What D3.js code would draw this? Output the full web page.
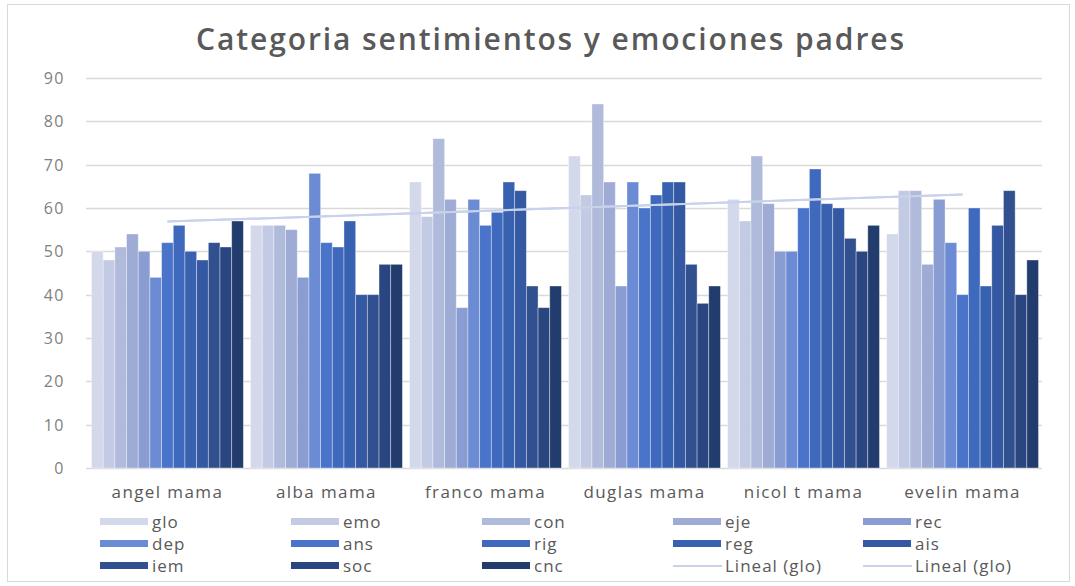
<!DOCTYPE html>
<html>
<head>
<meta charset="utf-8">
<script src="https://cdn.jsdelivr.net/npm/d3@7"></script>
<style>
  body { margin: 0; background: #fff; }
  svg { display: block; font-family: "Open Sans", "Noto Sans", sans-serif; }
</style>
</head>
<body>
<div id="chart"></div>
<script>
// categories and series (one array per series)
const categories = ["angel mama", "alba mama", "franco mama", "duglas mama", "nicol t mama", "evelin mama"];
const seriesNames = ["glo", "emo", "con", "eje", "rec", "dep", "ans", "rig", "reg", "ais", "iem", "soc", "cnc"];

const glo = [50, 56, 66, 72, 62, 54];
const emo = [48, 56, 58, 63, 57, 64];
const con = [51, 56, 76, 84, 72, 64];
const eje = [54, 55, 62, 66, 61, 47];
const rec = [50, 44, 37, 42, 50, 62];
const dep = [44, 68, 62, 66, 50, 52];
const ans = [52, 52, 56, 60, 60, 40];
const rig = [56, 51, 59, 63, 69, 60];
const reg = [50, 57, 66, 66, 61, 42];
const ais = [48, 40, 64, 66, 60, 56];
const iem = [52, 40, 42, 47, 53, 64];
const soc = [51, 47, 37, 38, 50, 40];
const cnc = [57, 47, 42, 42, 56, 48];

const yTicks = [0, 10, 20, 30, 40, 50, 60, 70, 80, 90];
const trendLabels = ["Lineal (glo)", "Lineal (glo)"];

const seriesColors = ["#d3d8ea", "#c3cae3", "#b0badb", "#9eabd5", "#8a9dd3", "#6c8bd5",
                      "#4a74c9", "#3f69bd", "#3861b0", "#3458a1", "#30508f", "#2a4680", "#223c6d"];

const values = [glo, emo, con, eje, rec, dep, ans, rig, reg, ais, iem, soc, cnc];

const width = 1075, height = 586;
const margin = { left: 88, right: 33, top: 78, bottom: 118 };

const svg = d3.select("#chart").append("svg")
    .attr("width", width)
    .attr("height", height);

// chart frame
svg.append("rect")
    .attr("x", 7.5).attr("y", 4.5)
    .attr("width", 1062).attr("height", 577)
    .attr("fill", "#fff")
    .attr("stroke", "#d9d9d9");

const x0 = d3.scaleBand()
    .domain(categories)
    .range([margin.left, width - margin.right])
    .paddingInner(0.045)
    .paddingOuter(0.022);

const x1 = d3.scaleBand()
    .domain(seriesNames)
    .range([0, x0.bandwidth()]);

const y = d3.scaleLinear()
    .domain([0, 90])
    .range([height - margin.bottom, margin.top]);

// title
svg.append("text")
    .attr("x", 551).attr("y", 50)
    .attr("text-anchor", "middle")
    .attr("font-size", 30)
    .attr("font-weight", 600)
    .attr("letter-spacing", 1.9)
    .attr("fill", "#595959")
    .text("Categoria sentimientos y emociones padres");

// gridlines + y labels
svg.append("g")
    .selectAll("line")
    .data(yTicks)
    .enter().append("line")
    .attr("x1", margin.left - 2)
    .attr("x2", width - margin.right)
    .attr("y1", d => Math.round(y(d)) + 0.5)
    .attr("y2", d => Math.round(y(d)) + 0.5)
    .attr("stroke", "#d9d9d9")
    .attr("stroke-width", 1.5);

svg.append("g")
    .selectAll("text")
    .data(yTicks)
    .enter().append("text")
    .attr("x", 65)
    .attr("y", d => y(d) + 6)
    .attr("text-anchor", "end")
    .attr("font-size", 16)
    .attr("letter-spacing", 1.5)
    .attr("fill", "#7f7f7f")
    .text(d => d);

// bars
const group = svg.append("g")
    .selectAll("g")
    .data(categories)
    .enter().append("g")
    .attr("transform", d => `translate(${x0(d)},0)`);

group.selectAll("rect")
    .data((d, i) => seriesNames.map((s, j) => ({ s: s, j: j, v: values[j][i] })))
    .enter().append("rect")
    .attr("x", d => x1(d.s))
    .attr("width", x1.bandwidth())
    .attr("y", d => y(d.v))
    .attr("height", d => y(0) - y(d.v))
    .attr("fill", d => seriesColors[d.j])
    .attr("stroke", "rgba(255,255,255,0.45)")
    .attr("stroke-width", 0.8);

// linear trend of glo (least squares over category index 1..n)
const n = glo.length;
const xs = d3.range(1, n + 1);
const mx = d3.mean(xs), my = d3.mean(glo);
const slope = d3.sum(xs, (xv, i) => (xv - mx) * (glo[i] - my)) / d3.sum(xs, xv => (xv - mx) * (xv - mx));
const intercept = my - slope * mx;
const trendPts = xs.map((xv, i) => [x0(categories[i]) + x0.bandwidth() / 2, y(intercept + slope * xv)]);

trendLabels.forEach(() => {
    svg.append("path")
        .attr("d", d3.line()([trendPts[0], trendPts[n - 1]]))
        .attr("fill", "none")
        .attr("stroke", "#c8d2ea")
        .attr("stroke-width", 2);
});

// category labels
svg.append("g")
    .selectAll("text")
    .data(categories)
    .enter().append("text")
    .attr("x", d => x0(d) + x0.bandwidth() / 2)
    .attr("y", 498)
    .attr("text-anchor", "middle")
    .attr("font-size", 17)
    .attr("letter-spacing", 1.4)
    .attr("fill", "#595959")
    .text(d => d);

// legend: 5 columns, 3 rows
const legendItems = seriesNames.map((s, j) => ({ name: s, color: seriesColors[j], line: false }))
    .concat(trendLabels.map(t => ({ name: t, color: "#c8d2ea", line: true })));

const colX = [100, 291, 482, 673, 863];
const rowY = [522, 544, 566];

const legend = svg.append("g")
    .selectAll("g")
    .data(legendItems)
    .enter().append("g")
    .attr("transform", (d, i) => `translate(${colX[i % 5]},${rowY[Math.floor(i / 5)]})`);

legend.filter(d => !d.line).append("rect")
    .attr("x", 0).attr("y", -4)
    .attr("width", 48).attr("height", 7)
    .attr("fill", d => d.color);

legend.filter(d => d.line).append("line")
    .attr("x1", 0).attr("x2", 49)
    .attr("y1", 0).attr("y2", 0)
    .attr("stroke", "#b9c4de")
    .attr("stroke-width", 1.5);

legend.append("text")
    .attr("x", 52)
    .attr("y", 6)
    .attr("font-size", 17)
    .attr("letter-spacing", 1)
    .attr("fill", "#595959")
    .text(d => d.name);
</script>
</body>
</html>
